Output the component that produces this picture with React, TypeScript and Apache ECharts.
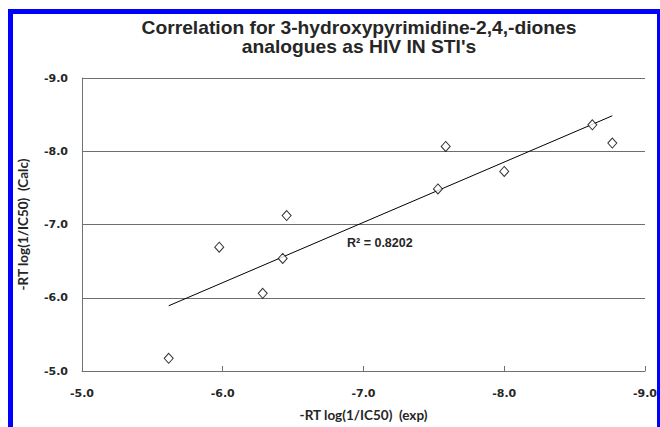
import React, { useEffect, useRef } from "react";
import * as echarts from "echarts";

const expValues = [-5.616, -5.975, -6.454, -6.426, -6.284, -7.584, -7.529, -8.0, -8.626, -8.768];
const calcValues = [-5.173, -6.691, -7.122, -6.537, -6.061, -8.065, -7.486, -7.725, -8.361, -8.111];
const titleLines = ["Correlation for 3-hydroxypyrimidine-2,4,-diones", "analogues as HIV IN STI's"];
const xAxisName = "-RT log(1/IC50)  (exp)";
const yAxisName = "-RT log(1/IC50)  (Calc)";
const r2Label = "R\u00b2 = 0.8202";
const axisMin = -9;
const axisMax = -5;

function regression(xs: number[], ys: number[]) {
  const n = xs.length;
  const mx = xs.reduce((a, b) => a + b, 0) / n;
  const my = ys.reduce((a, b) => a + b, 0) / n;
  let sxy = 0;
  let sxx = 0;
  for (let i = 0; i < n; i++) {
    sxy += (xs[i] - mx) * (ys[i] - my);
    sxx += (xs[i] - mx) * (xs[i] - mx);
  }
  const slope = sxy / sxx;
  return { slope, intercept: my - slope * mx };
}

export default function App() {
  const ref = useRef<HTMLDivElement>(null);
  useEffect(() => {
    if (!ref.current) return;
    const chart = echarts.init(ref.current, null, { renderer: "svg" });
    const { slope, intercept } = regression(expValues, calcValues);
    const xLo = Math.max(...expValues);
    const xHi = Math.min(...expValues);
    const trend = [
      [xLo, slope * xLo + intercept],
      [xHi, slope * xHi + intercept],
    ];
    const tickFont = {
      fontFamily: "DejaVu Sans",
      fontWeight: "bold" as const,
      fontSize: 11,
      color: "#262626",
    };
    const nameFont = {
      fontFamily: "Lato",
      fontWeight: "bold" as const,
      fontSize: 13.5,
      color: "#262626",
    };
    chart.setOption({
      animation: false,
      backgroundColor: "#ffffff",
      grid: { left: 82, right: 15, top: 78, bottom: 55, containLabel: false },
      xAxis: {
        type: "value",
        min: axisMin,
        max: axisMax,
        interval: 1,
        inverse: true,
        name: xAxisName,
        nameLocation: "middle",
        nameGap: 37,
        nameTextStyle: nameFont,
        axisLine: { show: true, lineStyle: { color: "#707070", width: 1 } },
        axisTick: { show: true, inside: true, length: 5, lineStyle: { color: "#707070" } },
        axisLabel: { ...tickFont, margin: 17, formatter: (v: number) => v.toFixed(1) },
        splitLine: { show: false },
      },
      yAxis: {
        type: "value",
        min: axisMin,
        max: axisMax,
        interval: 1,
        inverse: true,
        name: yAxisName,
        nameLocation: "middle",
        nameGap: 52,
        nameTextStyle: nameFont,
        axisLine: { show: true, lineStyle: { color: "#707070", width: 1 } },
        axisTick: { show: true, inside: true, length: 4, lineStyle: { color: "#707070" } },
        axisLabel: { ...tickFont, margin: 14, formatter: (v: number) => v.toFixed(1) },
        splitLine: { show: true, lineStyle: { color: "#6e6e6e", width: 1 } },
      },
      series: [
        {
          type: "line",
          data: trend,
          symbol: "none",
          lineStyle: { color: "#000000", width: 1 },
          z: 2,
          silent: true,
        },
        {
          type: "scatter",
          data: expValues.map((x, i) => [x, calcValues[i]]),
          symbol: "diamond",
          symbolSize: [9, 10],
          itemStyle: { color: "#ffffff", borderColor: "#000000", borderWidth: 1 },
          z: 3,
        },
      ],
      graphic: [
        { type: "rect", shape: { x: 8, y: 9, width: 5, height: 420 }, style: { fill: "#0000ff" } },
        { type: "rect", shape: { x: 8, y: 9, width: 652, height: 5 }, style: { fill: "#0000ff" } },
        { type: "rect", shape: { x: 657, y: 9, width: 3, height: 420 }, style: { fill: "#0000ff" } },
        {
          type: "text",
          x: 359,
          y: 19,
          scaleX: 1.1,
          style: {
            text: titleLines.join("\n"),
            font: "bold 17.5px 'Liberation Sans', Arial, sans-serif",
            fill: "#262626",
            align: "center",
            verticalAlign: "top",
            lineHeight: 18.5,
          },
        },
        {
          type: "text",
          x: 347,
          y: 243,
          style: {
            text: r2Label,
            font: "bold 12.5px 'Liberation Sans', Arial, sans-serif",
            fill: "#262626",
            align: "left",
            verticalAlign: "middle",
          },
        },
      ],
    });
    return () => chart.dispose();
  }, []);
  return (
    <div
      ref={ref}
      style={{ position: "fixed", left: 0, top: 0, width: 660, height: 427, background: "#fff" }}
    />
  );
}
